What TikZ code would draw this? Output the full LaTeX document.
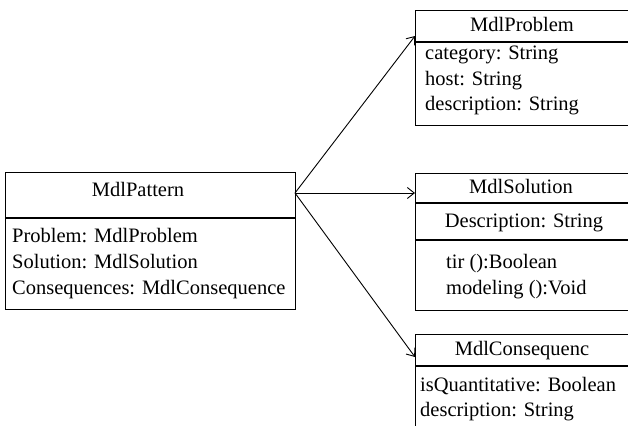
\documentclass[tikz,border=0pt]{standalone}
\usepackage{fontspec}
\setmainfont{Liberation Serif}
\usetikzlibrary{arrows.meta}
\begin{document}
\begin{tikzpicture}[x=1pt,y=-1pt,
  box/.style={draw,line width=1.3pt,inner sep=0pt,anchor=north west},
  sep/.style={line width=1.3pt},
  txt/.style={inner sep=0pt,anchor=mid west,font=\fontsize{20.5}{26}\selectfont},
  ctxt/.style={inner sep=0pt,anchor=mid,font=\fontsize{20.5}{26}\selectfont},
  conn/.style={line width=0.9pt,-{Straight Barb[length=7pt,width=11pt,line width=0.9pt]}}]
\useasboundingbox (0,0) rectangle (628,425);
\fill[white] (0,0) rectangle (628,425);
\clip (0,0) rectangle (628,425);
% MdlPattern
\node[box,minimum width=290pt,minimum height=137pt] (pat) at (5,172) {};
\draw[sep] (5,218) -- (295,218);
\coordinate (patEast) at (295,193);
\node[ctxt] (patTitle) at (138,194) {MdlPattern};
\node[txt] (pat1) at (12,240) {Problem: MdlProblem};
\node[txt] (pat2) at (12,266) {Solution: MdlSolution};
\node[txt] (pat3) at (12,292) {Consequences: MdlConsequence};
% MdlProblem
\node[box,minimum width=245pt,minimum height=115pt] (prob) at (415,10) {};
\draw[sep] (415,42) -- (660,42);
\coordinate (probW) at (415,36);
\node[ctxt] (probTitle) at (522,29) {MdlProblem};
\node[txt] (prob1) at (425,57) {category: String};
\node[txt] (prob2) at (425,83) {host: String};
\node[txt] (prob3) at (425,108) {description: String};
% MdlSolution
\node[box,minimum width=245pt,minimum height=137pt] (sol) at (415,173) {};
\draw[sep] (415,203) -- (660,203);
\draw[sep] (415,240) -- (660,240);
\coordinate (solW) at (415,193);
\node[ctxt] (solTitle) at (521,191) {MdlSolution};
\node[ctxt] (sol1) at (524,225) {Description: String};
\node[txt] (sol2) at (446,266) {tir ():Boolean};
\node[txt] (sol3) at (446,292) {modeling ():Void};
% MdlConsequenc
\node[box,minimum width=245pt,minimum height=116pt] (cons) at (415,334) {};
\draw[sep] (415,366) -- (660,366);
\coordinate (consW) at (415,357);
\node[ctxt] (consTitle) at (522,353) {MdlConsequenc};
\node[txt] (cons1) at (420,389) {isQuantitative: Boolean};
\node[txt] (cons2) at (420,414) {description: String};
% connectors
\draw[conn] (patEast) -- (probW);
\draw[conn] (patEast) -- (solW);
\draw[conn] (patEast) -- (consW);
\end{tikzpicture}
\end{document}
